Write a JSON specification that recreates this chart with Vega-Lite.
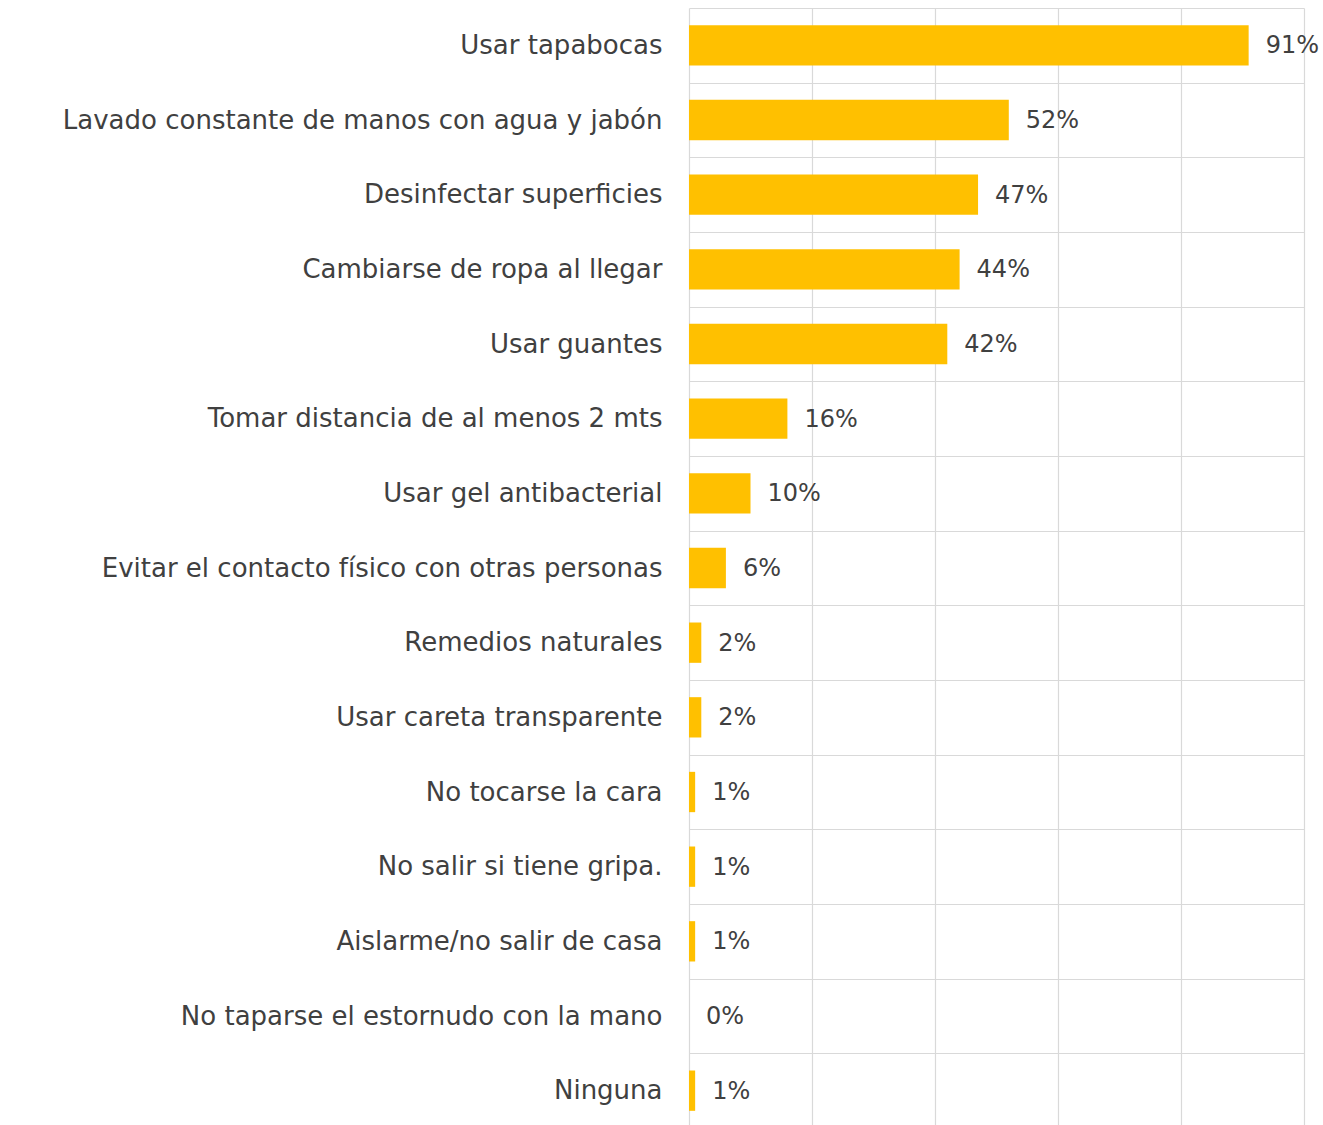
{
  "$schema": "https://vega.github.io/schema/vega-lite/v6.json",
  "autosize": "none",
  "padding": {"left": 689, "top": 8, "right": 19, "bottom": 0},
  "width": 615,
  "height": 1120,
  "background": "white",
  "data": {
    "values": [
      {"medida": "Usar tapabocas", "valor": 0.91},
      {"medida": "Lavado constante de manos con agua y jabón", "valor": 0.52},
      {"medida": "Desinfectar superficies", "valor": 0.47},
      {"medida": "Cambiarse de ropa al llegar", "valor": 0.44},
      {"medida": "Usar guantes", "valor": 0.42},
      {"medida": "Tomar distancia de al menos 2 mts", "valor": 0.16},
      {"medida": "Usar gel antibacterial", "valor": 0.10},
      {"medida": "Evitar el contacto físico con otras personas", "valor": 0.06},
      {"medida": "Remedios naturales", "valor": 0.02},
      {"medida": "Usar careta transparente", "valor": 0.02},
      {"medida": "No tocarse la cara", "valor": 0.01},
      {"medida": "No salir si tiene gripa.", "valor": 0.01},
      {"medida": "Aislarme/no salir de casa", "valor": 0.01},
      {"medida": "No taparse el estornudo con la mano", "valor": 0.0},
      {"medida": "Ninguna", "valor": 0.01}
    ]
  },
  "encoding": {
    "y": {
      "field": "medida",
      "type": "nominal",
      "sort": null,
      "scale": {"paddingInner": 0, "paddingOuter": 0},
      "axis": {
        "title": null,
        "domain": false,
        "ticks": false,
        "grid": true,
        "tickBand": "extent",
        "gridColor": "#d9d9d9",
        "gridWidth": 1.2,
        "labelFont": "DejaVu Sans",
        "labelFontSize": 26,
        "labelColor": "#404040",
        "labelPadding": 27,
        "labelLimit": 700
      }
    },
    "x": {
      "field": "valor",
      "type": "quantitative",
      "scale": {"domain": [0, 1], "nice": false},
      "axis": {
        "title": null,
        "domain": false,
        "ticks": false,
        "labels": false,
        "grid": true,
        "values": [0, 0.2, 0.4, 0.6, 0.8, 1],
        "gridColor": "#d9d9d9",
        "gridWidth": 1.2
      }
    }
  },
  "layer": [
    {
      "mark": {"type": "bar", "color": "#FFC000", "height": {"band": 0.54}}
    },
    {
      "mark": {"type": "text", "align": "left", "dx": 17, "dy": 1, "font": "DejaVu Sans", "fontSize": 24, "color": "#404040"},
      "encoding": {"text": {"field": "valor", "type": "quantitative", "format": ".0%"}}
    }
  ],
  "config": {"view": {"stroke": null}}
}
